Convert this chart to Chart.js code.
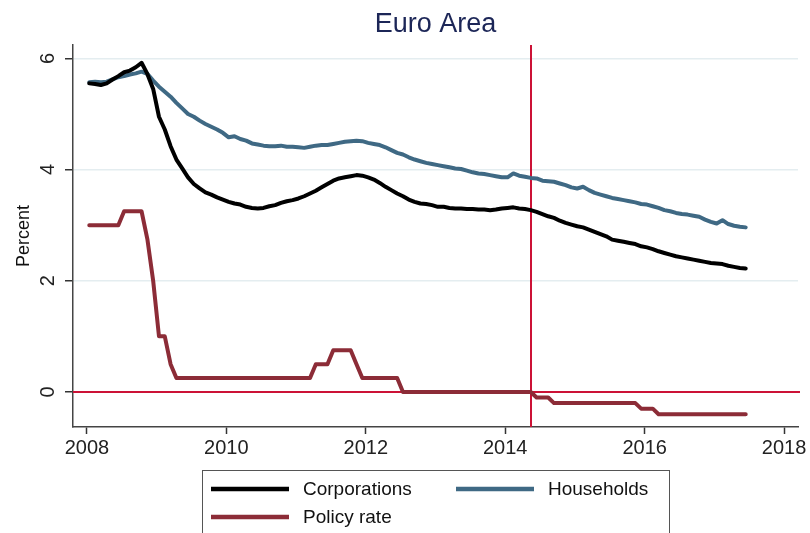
<!DOCTYPE html>
<html>
<head>
<meta charset="utf-8">
<script src="https://cdn.jsdelivr.net/npm/chart.js@4"></script>
<style>
  html, body { margin: 0; padding: 0; background: #fff; }
</style>
</head>
<body>
<canvas id="euroChart" width="810" height="533"></canvas>
<script>
const yearTicks = [2008, 2010, 2012, 2014, 2016, 2018];
const percentTicks = [0, 2, 4, 6];
const startYear = 2008;    // monthly data, Jan 2008 - Jun 2017
const eventDate = 2014.37; // vertical marker
const seriesNames = ['Corporations', 'Households', 'Policy rate'];

const corporations = [
  5.55, 5.54, 5.52, 5.55, 5.62, 5.68, 5.75, 5.78, 5.84, 5.92, 5.72, 5.45,
  4.95, 4.72, 4.42, 4.18, 4.02, 3.86, 3.74, 3.66, 3.59, 3.55, 3.50, 3.46,
  3.42, 3.39, 3.37, 3.33, 3.31, 3.30, 3.31, 3.34, 3.36, 3.40, 3.43, 3.45,
  3.48, 3.52, 3.57, 3.62, 3.68, 3.74, 3.80, 3.84, 3.86, 3.88, 3.90, 3.89,
  3.86, 3.82, 3.76, 3.69, 3.63, 3.57, 3.52, 3.46, 3.42, 3.39, 3.38, 3.36,
  3.33, 3.33, 3.31, 3.30, 3.30, 3.29, 3.29, 3.28, 3.28, 3.27, 3.28, 3.30,
  3.31, 3.32, 3.30, 3.29, 3.27, 3.24, 3.20, 3.16, 3.13, 3.08, 3.04, 3.01,
  2.98, 2.96, 2.92, 2.88, 2.84, 2.80, 2.74, 2.72, 2.70, 2.68, 2.66, 2.62,
  2.60, 2.57, 2.53, 2.50, 2.47, 2.44, 2.42, 2.40, 2.38, 2.36, 2.34, 2.32,
  2.31, 2.30, 2.27, 2.25, 2.23, 2.22
];

const households = [
  5.57, 5.58, 5.57, 5.58, 5.62, 5.66, 5.68, 5.71, 5.73, 5.76, 5.72, 5.60,
  5.49, 5.40, 5.31, 5.20, 5.10, 5.00, 4.95, 4.88, 4.82, 4.77, 4.72, 4.66,
  4.58, 4.60, 4.55, 4.52, 4.47, 4.45, 4.43, 4.42, 4.42, 4.43, 4.41, 4.41,
  4.40, 4.39, 4.41, 4.43, 4.44, 4.44, 4.46, 4.48, 4.50, 4.51, 4.52, 4.51,
  4.48, 4.46, 4.44, 4.40, 4.35, 4.30, 4.27, 4.22, 4.18, 4.15, 4.12, 4.10,
  4.08, 4.06, 4.04, 4.02, 4.01, 3.98, 3.95, 3.93, 3.92, 3.90, 3.88, 3.86,
  3.86, 3.93, 3.89, 3.87, 3.85, 3.84, 3.80, 3.79, 3.78, 3.75, 3.72, 3.68,
  3.66, 3.69, 3.63, 3.58, 3.55, 3.52, 3.49, 3.47, 3.45, 3.43, 3.41, 3.38,
  3.37, 3.34, 3.31, 3.27, 3.25, 3.22, 3.20, 3.19, 3.17, 3.15, 3.10, 3.06,
  3.03, 3.09, 3.02, 2.99, 2.97, 2.96
];

const policyRate = [
  3.00, 3.00, 3.00, 3.00, 3.00, 3.00, 3.25, 3.25, 3.25, 3.25, 2.75, 2.00,
  1.00, 1.00, 0.50, 0.25, 0.25, 0.25, 0.25, 0.25, 0.25, 0.25, 0.25, 0.25,
  0.25, 0.25, 0.25, 0.25, 0.25, 0.25, 0.25, 0.25, 0.25, 0.25, 0.25, 0.25,
  0.25, 0.25, 0.25, 0.50, 0.50, 0.50, 0.75, 0.75, 0.75, 0.75, 0.50, 0.25,
  0.25, 0.25, 0.25, 0.25, 0.25, 0.25, 0.00, 0.00, 0.00, 0.00, 0.00, 0.00,
  0.00, 0.00, 0.00, 0.00, 0.00, 0.00, 0.00, 0.00, 0.00, 0.00, 0.00, 0.00,
  0.00, 0.00, 0.00, 0.00, 0.00, -0.10, -0.10, -0.10, -0.20, -0.20, -0.20, -0.20,
  -0.20, -0.20, -0.20, -0.20, -0.20, -0.20, -0.20, -0.20, -0.20, -0.20, -0.20, -0.30,
  -0.30, -0.30, -0.40, -0.40, -0.40, -0.40, -0.40, -0.40, -0.40, -0.40, -0.40, -0.40,
  -0.40, -0.40, -0.40, -0.40, -0.40, -0.40
];

const FONT = '"Liberation Sans", Arial, sans-serif';

function toPoints(values) {
  return values.map((v, i) => ({ x: startYear + (i + 0.4) / 12, y: v }));
}

const decorations = {
  id: 'decorations',
  beforeDatasetsDraw(chart) {
    const { ctx, chartArea: a, scales: { x, y } } = chart;
    ctx.save();
    ctx.strokeStyle = '#cc1236';
    ctx.lineWidth = 2;
    const y0 = y.getPixelForValue(0);
    ctx.beginPath();
    ctx.moveTo(a.left, y0);
    ctx.lineTo(a.right + 2, y0);
    ctx.stroke();
    const xe = x.getPixelForValue(eventDate);
    ctx.beginPath();
    ctx.moveTo(xe, a.top);
    ctx.lineTo(xe, a.bottom);
    ctx.stroke();
    ctx.restore();
  },
  afterDraw(chart) {
    const { ctx, chartArea: a, scales: { y } } = chart;
    ctx.save();

    // title
    ctx.fillStyle = '#1c2657';
    ctx.font = '27px ' + FONT;
    ctx.textAlign = 'center';
    ctx.textBaseline = 'middle';
    ctx.fillText('Euro Area', (a.left + a.right) / 2, 25);

    // rotated y tick labels
    ctx.fillStyle = '#222';
    ctx.font = '20px ' + FONT;
    percentTicks.forEach(v => {
      ctx.save();
      ctx.translate(48, y.getPixelForValue(v));
      ctx.rotate(-Math.PI / 2);
      ctx.fillText(String(v), 0, 0);
      ctx.restore();
    });

    // y axis title
    ctx.save();
    ctx.font = '18px ' + FONT;
    ctx.fillStyle = '#111';
    ctx.translate(24, (a.top + a.bottom) / 2);
    ctx.rotate(-Math.PI / 2);
    ctx.fillText('Percent', 0, 0);
    ctx.restore();

    // legend box
    ctx.strokeStyle = '#555';
    ctx.lineWidth = 1;
    ctx.strokeRect(202.5, 470.5, 467, 80);
    const items = [
      { ds: 0, x: 211, y: 489 },
      { ds: 1, x: 456, y: 489 },
      { ds: 2, x: 211, y: 517 }
    ];
    ctx.font = '19px ' + FONT;
    ctx.textAlign = 'left';
    items.forEach(it => {
      const ds = chart.data.datasets[it.ds];
      ctx.strokeStyle = ds.borderColor;
      ctx.lineWidth = 4.5;
      ctx.beginPath();
      ctx.moveTo(it.x, it.y);
      ctx.lineTo(it.x + 78, it.y);
      ctx.stroke();
      ctx.fillStyle = '#111';
      ctx.fillText(ds.label, it.x + 92, it.y + 1);
    });
    ctx.restore();
  }
};

new Chart(document.getElementById('euroChart'), {
  type: 'line',
  data: {
    datasets: [
      {
        label: seriesNames[0],
        data: toPoints(corporations),
        borderColor: '#000000',
        borderWidth: 4
      },
      {
        label: seriesNames[1],
        data: toPoints(households),
        borderColor: '#3f6984',
        borderWidth: 4
      },
      {
        label: seriesNames[2],
        data: toPoints(policyRate),
        borderColor: '#8c2c37',
        borderWidth: 4
      }
    ]
  },
  options: {
    responsive: false,
    animation: false,
    elements: {
      point: { radius: 0 },
      line: { tension: 0, borderCapStyle: 'round', borderJoinStyle: 'round' }
    },
    layout: { padding: { top: 45, right: 12, left: 0, bottom: 0 } },
    plugins: {
      legend: { display: false },
      title: { display: false },
      tooltip: { enabled: false }
    },
    scales: {
      x: {
        type: 'linear',
        min: 2007.8,
        max: 2018.2,
        afterBuildTicks: scale => { scale.ticks = yearTicks.map(v => ({ value: v })); },
        afterFit: scale => { scale.height = 106; },
        grid: { drawOnChartArea: false, tickLength: 7, tickColor: '#333', tickWidth: 1.5 },
        border: { color: '#444', width: 1.5 },
        ticks: {
          color: '#222',
          font: { family: FONT, size: 20 },
          padding: 2,
          maxRotation: 0,
          callback: v => String(v)
        }
      },
      y: {
        min: -0.63,
        max: 6.24,
        afterBuildTicks: scale => { scale.ticks = percentTicks.map(v => ({ value: v })); },
        afterFit: scale => { scale.width = 73; },
        grid: { color: '#e4edf0', lineWidth: 1.5, tickLength: 8, tickColor: '#333', tickWidth: 1.5 },
        border: { color: '#444', width: 1.5 },
        ticks: { display: false }
      }
    }
  },
  plugins: [decorations]
});
</script>
</body>
</html>
